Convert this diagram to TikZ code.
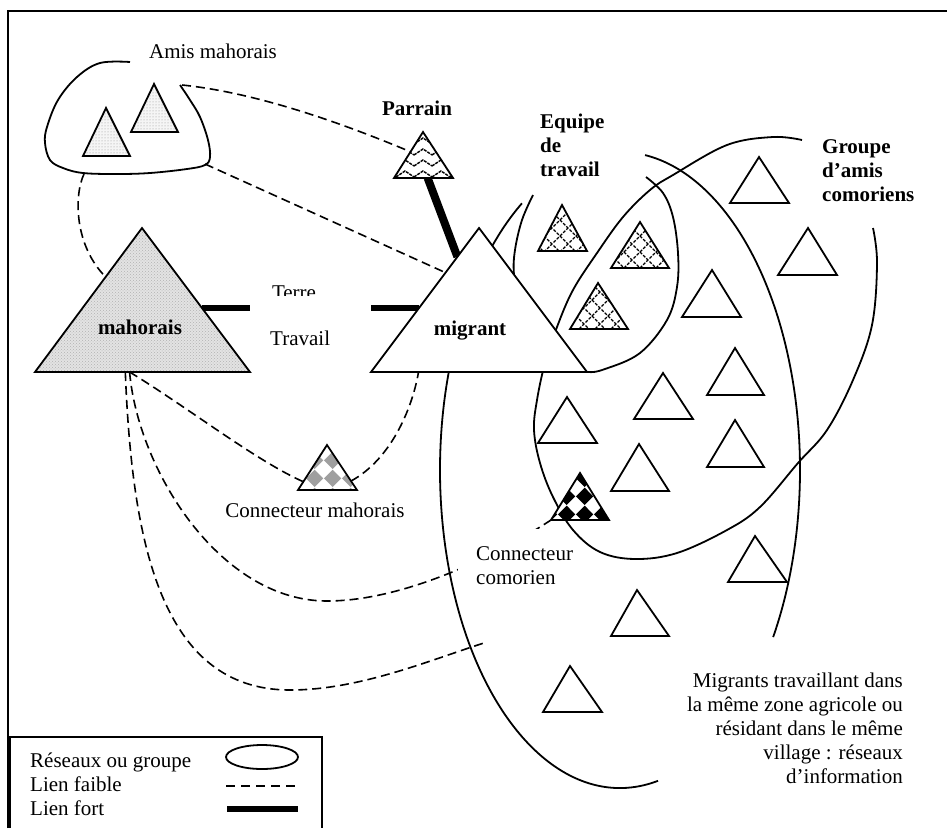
\documentclass[tikz,border=0pt]{standalone}
\usepackage{fontspec}
\setmainfont{Liberation Serif}
\usetikzlibrary{patterns,calc}

\pgfdeclarepatternformonly{diam}{\pgfqpoint{0pt}{0pt}}{\pgfqpoint{18pt}{18pt}}{\pgfqpoint{18pt}{18pt}}{%
  \pgfpathmoveto{\pgfqpoint{9pt}{0pt}}\pgfpathlineto{\pgfqpoint{18pt}{9pt}}%
  \pgfpathlineto{\pgfqpoint{9pt}{18pt}}\pgfpathlineto{\pgfqpoint{0pt}{9pt}}%
  \pgfpathclose\pgfusepath{fill}}
\pgfdeclarepatternformonly{zigwave}{\pgfqpoint{-1pt}{-1pt}}{\pgfqpoint{19pt}{12pt}}{\pgfqpoint{18pt}{11pt}}{%
  \pgfsetlinewidth{1.4pt}\pgfsetdash{{3pt}{1pt}}{0pt}%
  \pgfpathmoveto{\pgfqpoint{0pt}{2pt}}\pgfpathlineto{\pgfqpoint{9pt}{8pt}}%
  \pgfpathlineto{\pgfqpoint{18pt}{2pt}}\pgfusepath{stroke}}
\pgfdeclarepatternformonly{lattice}{\pgfqpoint{-1pt}{-1pt}}{\pgfqpoint{17pt}{17pt}}{\pgfqpoint{16pt}{16pt}}{%
  \pgfsetlinewidth{1.3pt}\pgfsetdash{{3pt}{1.5pt}}{0pt}%
  \pgfpathmoveto{\pgfqpoint{0pt}{0pt}}\pgfpathlineto{\pgfqpoint{16pt}{16pt}}%
  \pgfpathmoveto{\pgfqpoint{0pt}{16pt}}\pgfpathlineto{\pgfqpoint{16pt}{0pt}}\pgfusepath{stroke}}

\newcommand{\TriAt}[6]{%
  \coordinate (#1-a) at (#2,#3);
  \coordinate (#1-l) at (#4,#6);
  \coordinate (#1-r) at (#5,#6);}
\newcommand{\TriDraw}[2]{\path[tri,#2] (#1-a) -- (#1-r) -- (#1-l) -- cycle;}

\begin{document}
\begin{tikzpicture}[x=1pt,y=-1pt,
  lbl/.style={font=\fontsize{21}{24}\selectfont, inner sep=0pt},
  blbl/.style={font=\fontsize{21}{24}\selectfont\bfseries, inner sep=0pt},
  grp/.style={line width=1.8pt},
  weak/.style={line width=1.6pt, dash pattern=on 9pt off 5pt},
  strong/.style={line width=6.5pt},
  tri/.style={draw, line width=1.8pt, line join=miter},
  plain/.style={fill=white},
  mahfill/.style={preaction={fill=gray!22}, pattern=crosshatch dots, pattern color=gray!60},
  dotfill/.style={preaction={fill=gray!8}, pattern=dots, pattern color=gray!85},
  wavefill/.style={preaction={fill=white}, pattern=zigwave},
  latfill/.style={preaction={fill=white}, pattern=lattice},
  gdiam/.style={preaction={fill=white}, pattern=diam, pattern color=gray!75},
  bdiam/.style={preaction={fill=white}, pattern=diam, pattern color=black}]

\useasboundingbox (0,0) rectangle (947,828);

% ---------- triangle geometry ----------
\TriAt{mah}{142}{228}{35}{250}{372}
\TriAt{mig}{479}{228}{371}{587}{372}
\TriAt{par}{423}{132}{394}{453}{178}
\TriAt{am1}{106}{108}{83}{130}{156}
\TriAt{am2}{154}{84}{131}{178}{132}
\TriAt{cm}{327}{445}{298}{357}{490}
\TriAt{cc}{580}{473}{551}{609}{520}
\TriAt{e1}{562}{205}{538}{587}{251}
\TriAt{e2}{640}{222}{611}{669}{268}
\TriAt{e3}{598}{283}{570}{628}{329}
\TriAt{w1}{759}{157}{730}{789}{203}
\TriAt{w2}{808}{228}{778}{837}{275}
\TriAt{w3}{712}{270}{682}{741}{317}
\TriAt{w4}{735}{348}{707}{764}{395}
\TriAt{w5}{663}{373}{634}{693}{419}
\TriAt{w6}{735}{420}{707}{764}{467}
\TriAt{w7}{567}{397}{538}{597}{443}
\TriAt{w8}{639}{444}{611}{669}{491}
\TriAt{w9}{755}{536}{728}{787}{582}
\TriAt{w10}{637}{590}{611}{669}{636}
\TriAt{w11}{570}{666}{543}{602}{712}

\coordinate (amisA) at (182,85);
\coordinate (amisB) at (205,164);
\coordinate (amisC) at (84,174);
\coordinate (migIn) at (487,642);

% ---------- frame ----------
\draw[line width=1.3pt] (8,828) -- (8,11) -- (947,11);

% ---------- Amis mahorais group ----------
\draw[grp] plot[smooth, tension=0.6] coordinates {(130,62) (100,63) (77,77) (58,100) (47,127) (45,143) (50,160) (63,168) (83,173) (117,174) (150,173) (187,169) (205,165) (210,157) (208,140) (200,117) (190,100) (180,85)};

% ---------- links ----------
\node[lbl, anchor=base] (terre) at (294,299) {Terre};
\draw[strong] ($(mah-a)!0.556!(mah-r)$) -- ($(mig-a)!0.556!(mig-l)$);
\fill[white] (250,296) rectangle (371,362);
\node[lbl, anchor=base west] (travail) at (270,345) {Travail};

\draw[line width=8pt] ($(par-l)!0.57!(par-r)$) -- ($(mig-a)!0.2!(mig-l)$);

\draw[weak] (amisA) .. controls (250,92) and (330,118) .. ($(par-a)!0.43!(par-l)$);
\draw[weak] (amisB) -- ($(mig-a)!0.31!(mig-l)$);
\draw[weak] (amisC) .. controls (74,195) and (74,245) .. ($(mah-a)!0.34!(mah-l)$);
\draw[weak] ($(mah-l)!0.44!(mah-r)$) .. controls (200,415) and (280,480) .. ($(cm-l)!0.5!(cm-r)$);
\draw[weak] ($(cm-a)!0.8!(cm-r)$) .. controls (390,460) and (412,410) .. ($(mig-l)!0.22!(mig-r)$);
\draw[weak] ($(mah-l)!0.44!(mah-r)$) .. controls (138,470) and (220,601) .. (327,601) .. controls (400,601) and (490,560) .. (cc-l);
\draw[weak] ($(mah-l)!0.42!(mah-r)$) .. controls (132,540) and (160,690) .. (290,690) .. controls (360,690) and (430,660) .. (migIn);

\fill[white] (458,529) rectangle (578,590);

% ---------- groups ----------
\draw[grp] (620,470) ++(-82:180 and 318) arc[start angle=-82, end angle=31.7, x radius=180, y radius=318];
\draw[grp] (620,470) ++(77.8:180 and 318) arc[start angle=77.8, end angle=237, x radius=180, y radius=318];
\draw[grp] plot[smooth, tension=0.6] coordinates {(533,195) (522,220) (515,250) (514,275) (520,315) (540,350) (565,367) (587,372) (605,369) (640,353) (667,320) (677,287) (678,253) (673,217) (663,193) (646,177)};
\draw[grp] plot[smooth, tension=0.6] coordinates {(873,228) (877,263) (872,325) (853,380) (827,430) (798,463) (760,507) (727,530) (677,553) (635,559) (600,552) (573,530) (553,497) (540,463) (534,430) (537,400) (545,363) (557,327) (573,290) (597,253) (623,217) (650,190) (673,175) (727,145) (773,137) (802,140)};

% ---------- triangles ----------
\TriDraw{am1}{dotfill}
\TriDraw{am2}{dotfill}
\TriDraw{mah}{mahfill}
\TriDraw{mig}{plain}
\TriDraw{par}{wavefill}
\TriDraw{cm}{gdiam}
\TriDraw{cc}{bdiam}
\TriDraw{e1}{latfill}
\TriDraw{e2}{latfill}
\TriDraw{e3}{latfill}
\foreach \t in {w1,w2,w3,w4,w5,w6,w7,w8,w9,w10,w11} {\TriDraw{\t}{plain}}

% ---------- labels ----------
\node[lbl, anchor=base] (amislbl) at (213,58) {Amis mahorais};
\node[blbl, anchor=base] (parlbl) at (417,115) {Parrain};
\node[blbl, anchor=base] (mahlbl) at (140,334) {mahorais};
\node[blbl, anchor=base] (miglbl) at (470,335) {migrant};
\node[lbl, anchor=base] (cmlbl) at (315,517) {Connecteur mahorais};
\node[blbl, anchor=north west, align=left] (eqlbl) at (540,113.5) {Equipe\\de\\travail};
\node[blbl, anchor=north west, align=left] (grlbl) at (822,139.5) {Groupe\\d’amis\\comoriens};
\node[lbl, anchor=north west, align=left] (cclbl) at (476,546) {Connecteur\\comorien};
\node[lbl, anchor=north east, align=right] (mzlbl) at (903,673) {Migrants travaillant dans\\la même zone agricole ou\\résidant dans le même\\village : réseaux\\d’information};

% ---------- legend ----------
\draw[line width=1.3pt] (10,828) -- (10,737) -- (322,737) -- (322,828);
\node[lbl, anchor=base west] (lg1) at (30,767) {Réseaux ou groupe};
\node[lbl, anchor=base west] (lg2) at (30,791) {Lien faible};
\node[lbl, anchor=base west] (lg3) at (30,815) {Lien fort};
\coordinate (lgE) at (262,757);
\draw[grp] (lgE) ellipse [x radius=36, y radius=12];
\coordinate (lgW1) at (226,786);
\coordinate (lgW2) at (298,786);
\draw[weak, dash pattern=on 9pt off 6pt] (lgW1) -- (lgW2);
\coordinate (lgS1) at (227,809);
\coordinate (lgS2) at (298,809);
\draw[strong] (lgS1) -- (lgS2);
\end{tikzpicture}
\end{document}
